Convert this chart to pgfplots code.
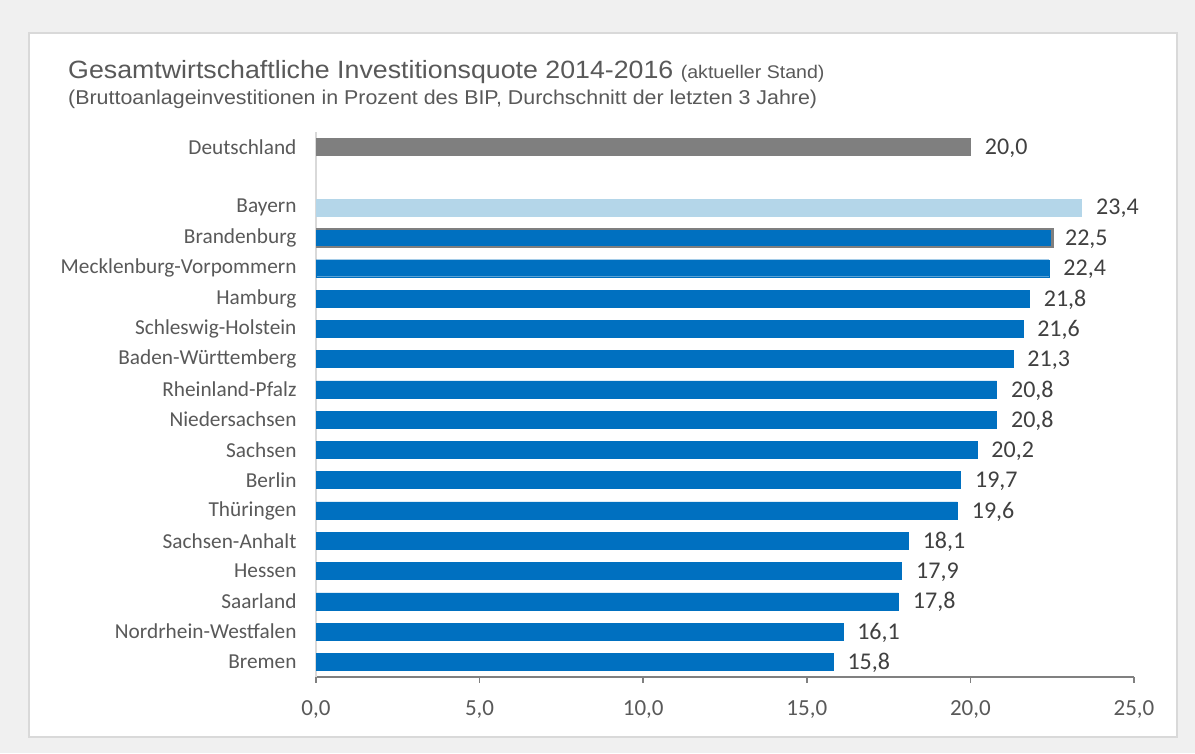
\documentclass[border=0pt]{standalone}
\usepackage{pgfplots}
\pgfplotsset{compat=1.18}
\usepackage{fontspec}
\setmainfont{Carlito}
\newfontfamily\arialfont[FakeStretch=1.07]{Liberation Sans}
\definecolor{bggray}{HTML}{F0F0F0}
\definecolor{panelborder}{HTML}{D9D9D9}
\definecolor{txtgray}{HTML}{595959}
\definecolor{valtxt}{HTML}{404040}
\definecolor{barblue}{HTML}{0070C0}
\definecolor{barlight}{HTML}{B4D6E9}
\definecolor{bargray}{HTML}{7F7F7F}
\definecolor{axgray}{HTML}{808080}
\begin{document}
\begin{tikzpicture}[x=1pt,y=1pt]
\fill[bggray] (0,0) rectangle (1195,753);
\fill[white,draw=panelborder,line width=2pt] (29,16) rectangle (1177,720);
\node[anchor=base west,text=txtgray,inner sep=0pt] at (68,674)
  {\arialfont\fontsize{25}{28}\selectfont Gesamtwirtschaftliche Investitionsquote 2014-2016 {\fontsize{18.3}{20}\selectfont(aktueller Stand)}};
\node[anchor=base west,text=txtgray,inner sep=0pt] at (68,648)
  {\arialfont\fontsize{20}{22}\selectfont (Bruttoanlageinvestitionen in Prozent des BIP, Durchschnitt der letzten 3 Jahre)};
\begin{axis}[
  at={(316pt,76pt)}, anchor=south west,
  scale only axis, width=818pt, height=545pt,
  xmin=0, xmax=25, ymin=-0.5, ymax=17.5,
  clip=false,
  axis x line*=bottom, axis y line*=left,
  x axis line style={draw=axgray,line width=1.5pt},
  y axis line style={draw=panelborder,line width=2pt},
  xtick={0,5,10,15,20,25},
  xticklabels={{0,0},{5,0},{10,0},{15,0},{20,0},{25,0}},
  tick align=outside,
  major tick length=6pt,
  xtick style={draw=axgray,line width=1.5pt},
  xticklabel style={font=\fontsize{23}{26}\selectfont,text=txtgray,yshift=-14pt},
  ytick={0,1,2,3,4,5,6,7,8,9,10,11,12,13,14,15,17},
  yticklabels={Bremen,Nordrhein-Westfalen,Saarland,Hessen,Sachsen-Anhalt,Thüringen,Berlin,Sachsen,Niedersachsen,Rheinland-Pfalz,Baden-Württemberg,Schleswig-Holstein,Hamburg,Mecklenburg-Vorpommern,Brandenburg,Bayern,Deutschland},
  ytick style={draw=none},
  yticklabel style={font=\fontsize{21.3}{24}\selectfont,text=txtgray,xshift=-10pt},
  nodes near coords style={font=\fontsize{24}{27}\selectfont,text=valtxt,anchor=west,xshift=11pt,yshift=-1pt,
    /pgf/number format/.cd,fixed,fixed zerofill,precision=1,use comma,assume math mode=true},
]
\addplot[xbar,bar width=17pt,fill=barblue,draw=barblue,point meta=x,nodes near coords] coordinates {
(15.8,0) (16.1,1) (17.8,2) (17.9,3) (18.1,4) (19.6,5) (19.7,6) (20.2,7) (20.8,8) (20.8,9) (21.3,10) (21.6,11) (21.8,12) (22.4,13)};
\addplot[xbar,bar width=20pt,fill=bargray,draw=none] coordinates {(22.55,14)};
\addplot[xbar,bar width=16.5pt,fill=barblue,draw=none,point meta=explicit,nodes near coords] coordinates {(22.45,14) [22.5]};
\addplot[xbar,bar width=17pt,fill=barlight,draw=barlight,point meta=x,nodes near coords] coordinates {(23.4,15)};
\addplot[xbar,bar width=17pt,fill=bargray,draw=bargray,point meta=x,nodes near coords] coordinates {(20.0,17)};
\end{axis}
\end{tikzpicture}
\end{document}
